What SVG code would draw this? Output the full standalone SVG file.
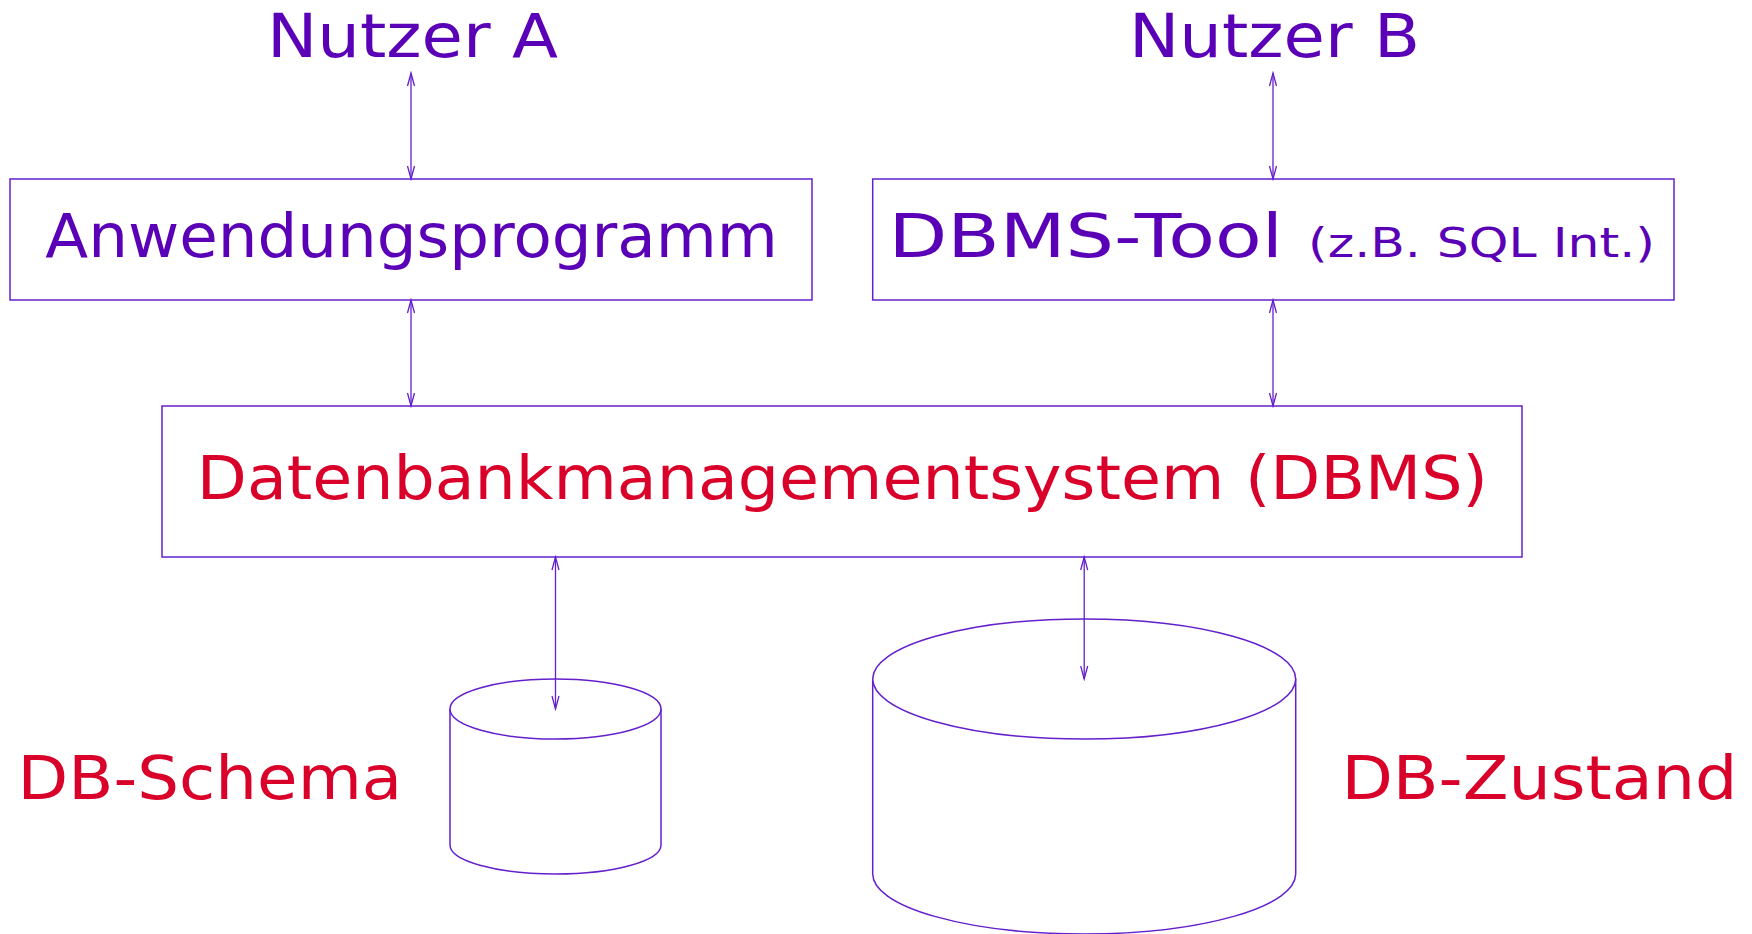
<svg xmlns="http://www.w3.org/2000/svg" width="1752" height="934" viewBox="0 0 1752 934">
<defs>
<style>
.box{fill:none;stroke:#6420cc;stroke-width:1.5}
.cyl{fill:#fff;stroke:#6420cc;stroke-width:1.5}
.con{fill:none;stroke:#6420cc;stroke-width:1.3;marker-start:url(#arr);marker-end:url(#arr)}
.t{font-family:"DejaVu Sans","Liberation Sans",sans-serif;font-size:60px}
.p{fill:#5a00b6}
.r{fill:#d9002a}
.s{font-size:40px}
</style>
<marker id="arr" markerUnits="userSpaceOnUse" markerWidth="16" markerHeight="10" viewBox="-14 -5 16 10" refX="0" refY="0" orient="auto-start-reverse">
<path d="M-13,-3.5 L0,0 L-13,3.5" fill="none" stroke="#6420cc" stroke-width="1.3"/>
</marker>
</defs>
<rect width="1752" height="934" fill="#fff"/>
<g id="nutzerA"><text class="t p" x="267" y="57" textLength="291" lengthAdjust="spacingAndGlyphs">Nutzer A</text></g>
<g id="nutzerB"><text class="t p" x="1129" y="57" textLength="291" lengthAdjust="spacingAndGlyphs">Nutzer B</text></g>
<g id="anwendung">
<rect class="box" x="10" y="179" width="802" height="121"/>
<text class="t p" x="45.3" y="257" textLength="732.6" lengthAdjust="spacingAndGlyphs">Anwendungsprogramm</text>
</g>
<g id="tool">
<rect class="box" x="872.7" y="179" width="801.3" height="121"/>
<text class="t p" x="888.5" y="257" textLength="394.5" lengthAdjust="spacingAndGlyphs">DBMS-Tool</text>
<text class="t p s" x="1308" y="257" textLength="347" lengthAdjust="spacingAndGlyphs">(z.B. SQL Int.)</text>
</g>
<g id="dbms">
<rect class="box" x="162" y="406" width="1360" height="151"/>
<text class="t r" x="196.8" y="499" textLength="1291" lengthAdjust="spacingAndGlyphs">Datenbankmanagementsystem (DBMS)</text>
</g>
<g id="schema">
<path class="cyl" d="M450,709 L450,845 A105.5,29 0 0 0 661,845 L661,709"/>
<ellipse class="cyl" cx="555.5" cy="709" rx="105.5" ry="30"/>
<text class="t r" x="17.6" y="799" textLength="384.6" lengthAdjust="spacingAndGlyphs">DB-Schema</text>
</g>
<g id="zustand">
<path class="cyl" d="M872.7,679 L872.7,874 A211.5,60 0 0 0 1295.7,874 L1295.7,679"/>
<ellipse class="cyl" cx="1084.2" cy="679" rx="211.5" ry="60"/>
<text class="t r" x="1341.4" y="799" textLength="396" lengthAdjust="spacingAndGlyphs">DB-Zustand</text>
</g>
<g id="connectors">
<line class="con" x1="411" y1="73" x2="411" y2="179"/>
<line class="con" x1="411" y1="300" x2="411" y2="406"/>
<line class="con" x1="1273" y1="73" x2="1273" y2="179"/>
<line class="con" x1="1273" y1="300" x2="1273" y2="406"/>
<line class="con" x1="555.5" y1="557" x2="555.5" y2="709"/>
<line class="con" x1="1084.2" y1="557" x2="1084.2" y2="679"/>
</g>
</svg>
